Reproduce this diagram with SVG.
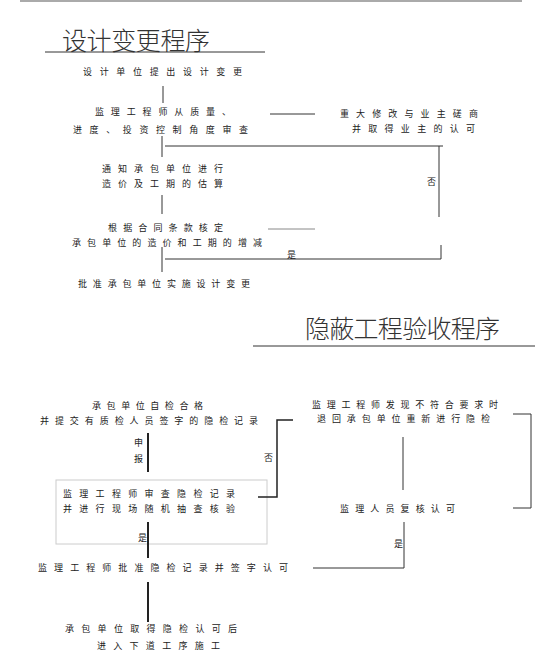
<svg xmlns="http://www.w3.org/2000/svg" width="551" height="668" viewBox="0 0 551 668">
<style>
.t{font-family:"Noto Sans CJK SC","Liberation Sans",sans-serif;font-size:9px;fill:#222}
.h{font-family:"Noto Sans CJK SC","Liberation Sans",sans-serif;font-size:25px;font-weight:200;fill:#333}
.ln{stroke:#333;stroke-width:1;fill:none}
.lb{stroke:#222;stroke-width:2;fill:none}
.lg{stroke:#888;stroke-width:1;fill:none}
</style>
<rect width="551" height="668" fill="#fff"/>
<line x1="20" y1="1" x2="522" y2="1" stroke="#aaa" stroke-width="2"/>

<g id="title1">
<text class="h" x="62" y="50" textLength="148" lengthAdjust="spacing">设计变更程序</text>
<line class="ln" x1="45" y1="52" x2="265" y2="52"/>
</g>

<g id="n1"><text class="t" x="83" y="75" textLength="159" lengthAdjust="spacing">设计单位提出设计变更</text></g>
<g id="n2"><text class="t" x="95" y="114.5" textLength="136" lengthAdjust="spacing">监理工程师从质量、</text>
<text class="t" x="73" y="132.5" textLength="175" lengthAdjust="spacing">进度、投资控制角度审查</text></g>
<g id="n3"><text class="t" x="340" y="116.5" textLength="138" lengthAdjust="spacing">重大修改与业主磋商</text>
<text class="t" x="352" y="131.5" textLength="123" lengthAdjust="spacing">并取得业主的认可</text></g>
<g id="n4"><text class="t" x="102" y="171.5" textLength="121" lengthAdjust="spacing">通知承包单位进行</text>
<text class="t" x="102" y="186.5" textLength="121" lengthAdjust="spacing">造价及工期的估算</text></g>
<g id="n5"><text class="t" x="108" y="230.5" textLength="115" lengthAdjust="spacing">根据合同条款核定</text>
<text class="t" x="72" y="245.5" textLength="190" lengthAdjust="spacing">承包单位的造价和工期的增减</text></g>
<g id="n6"><text class="t" x="78" y="286.5" textLength="172" lengthAdjust="spacing">批准承包单位实施设计变更</text></g>

<g id="connectors1">
<line class="ln" x1="163" y1="86" x2="163" y2="103"/>
<line class="ln" x1="270" y1="114" x2="315" y2="114"/>
<line class="ln" x1="162" y1="136" x2="162" y2="157"/>
<line class="ln" x1="165" y1="146" x2="443" y2="146"/>
<line class="ln" x1="439" y1="146" x2="439" y2="217"/>
<line class="ln" x1="162" y1="195" x2="162" y2="214"/>
<line class="lg" x1="268" y1="229" x2="315" y2="229"/>
<line class="ln" x1="165" y1="259" x2="441" y2="259"/>
<line class="ln" x1="441" y1="245" x2="441" y2="259"/>
<line class="ln" x1="162" y1="247" x2="162" y2="272"/>
<text class="t" x="427" y="184.5">否</text>
<text class="t" x="287" y="257.5">是</text>
</g>

<g id="title2">
<text class="h" x="305" y="338" textLength="195" lengthAdjust="spacing">隐蔽工程验收程序</text>
<line class="ln" x1="253" y1="346" x2="535" y2="346"/>
</g>

<g id="m1"><text class="t" x="92" y="408.5" textLength="111" lengthAdjust="spacing">承包单位自检合格</text>
<text class="t" x="40" y="423.5" textLength="218" lengthAdjust="spacing">并提交有质检人员签字的隐检记录</text></g>
<g id="m2"><rect x="56" y="480" width="211" height="64" fill="none" stroke="#ccc" stroke-width="1"/>
<text class="t" x="63" y="496.5" textLength="172" lengthAdjust="spacing">监理工程师审查隐检记录</text>
<text class="t" x="63" y="511.5" textLength="172" lengthAdjust="spacing">并进行现场随机抽查核验</text></g>
<g id="m3"><text class="t" x="312" y="407.5" textLength="186" lengthAdjust="spacing">监理工程师发现不符合要求时</text>
<text class="t" x="317" y="421.5" textLength="173" lengthAdjust="spacing">退回承包单位重新进行隐检</text></g>
<g id="m4"><text class="t" x="340" y="511.5" textLength="115" lengthAdjust="spacing">监理人员复核认可</text></g>
<g id="m5"><text class="t" x="38" y="570.5" textLength="250" lengthAdjust="spacing">监理工程师批准隐检记录并签字认可</text></g>
<g id="m6"><text class="t" x="65" y="631.5" textLength="172" lengthAdjust="spacing">承包单位取得隐检认可后</text>
<text class="t" x="97" y="648.5" textLength="123" lengthAdjust="spacing">进入下道工序施工</text></g>

<g id="connectors2">
<line class="lb" x1="148" y1="433" x2="148" y2="472"/>
<line class="lb" x1="148" y1="522" x2="148" y2="558"/>
<line class="lb" x1="148" y1="582" x2="148" y2="622"/>
<polyline class="lb" points="258,497 277,497 277,420 293,420" style="stroke-width:1.5"/>
<line class="ln" x1="403" y1="437" x2="403" y2="490"/>
<polyline class="ln" points="513,414 531,414 531,508 513,508"/>
<polyline class="ln" points="404,522 404,568 313,568"/>
<text class="t" x="134" y="445.5">申</text>
<text class="t" x="134" y="461.5">报</text>
<text class="t" x="264" y="460.5">否</text>
<text class="t" x="138" y="540.5">是</text>
<text class="t" x="394" y="546.5">是</text>
</g>
</svg>
